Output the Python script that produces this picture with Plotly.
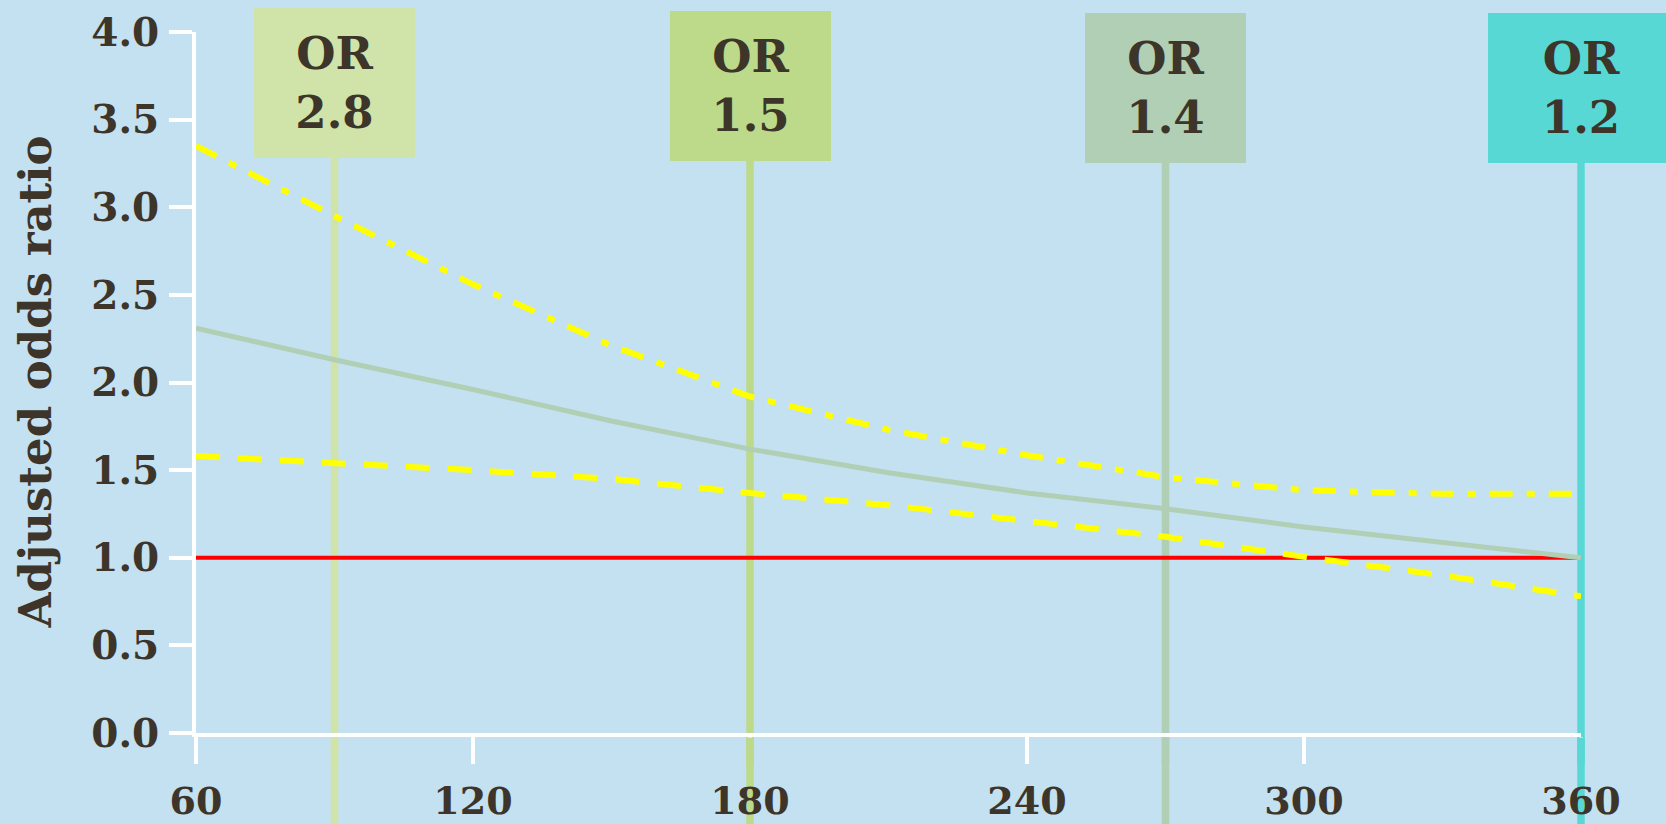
import plotly.graph_objects as go

# ---- data ----
x_vals = [60, 90, 120, 150, 180, 210, 240, 270, 300, 330, 360]
or_curve = [2.31, 2.13, 1.96, 1.78, 1.62, 1.485, 1.37, 1.28, 1.175, 1.09, 1.00]
upper_ci = [3.35, 2.95, 2.56, 2.21, 1.92, 1.73, 1.585, 1.46, 1.385, 1.365, 1.365]
lower_ci = [1.58, 1.54, 1.50, 1.45, 1.37, 1.30, 1.21, 1.12, 1.005, 0.90, 0.78]
ref_x = [60, 360]
ref_y = [1.0, 1.0]

marker_x = [90, 180, 270, 360]
marker_labels = ["2.8", "1.5", "1.4", "1.2"]
marker_colors = ["#d0e4aa", "#bdd98a", "#b1cfb4", "#58d8d5"]

x_ticks = [60, 120, 180, 240, 300, 360]
y_ticks = [0.0, 0.5, 1.0, 1.5, 2.0, 2.5, 3.0, 3.5, 4.0]
y_tick_text = ["0.0", "0.5", "1.0", "1.5", "2.0", "2.5", "3.0", "3.5", "4.0"]

X_RANGE = [60, 360]
Y_RANGE = [0, 4]

# ---- layout geometry ----
W, H = 1666, 824
ML, MR, MT, MB = 196, 85, 32, 91
PH = H - MT - MB

def py(px):
    return (H - MB - px) / PH

def px_x(v):
    return (v - X_RANGE[0]) / (X_RANGE[1] - X_RANGE[0])

FONT = "DejaVu Serif"
TXT = "#3d3529"
BG = "#c4e1f1"

box_tops = [8.0, 10.6, 12.5, 12.5]
box_h = 150
box_w = [161, 161, 161, 186]

fig = go.Figure()

fig.add_trace(go.Scatter(x=ref_x, y=ref_y, mode="lines",
                         line=dict(color="#ff0000", width=4), hoverinfo="skip"))
fig.add_trace(go.Scatter(x=x_vals, y=lower_ci, mode="lines",
                         line=dict(color="#ffff00", width=6, dash="24px,18px")))
fig.add_trace(go.Scatter(x=x_vals, y=upper_ci, mode="lines",
                         line=dict(color="#ffff00", width=6, dash="23px,14px,8px,14px")))
fig.add_trace(go.Scatter(x=x_vals, y=or_curve, mode="lines",
                         line=dict(color="#b1cfb4", width=5)))

shapes = []
annotations = []
for i, (mx, lab, col) in enumerate(zip(marker_x, marker_labels, marker_colors)):
    bottom = box_tops[i] + box_h
    xp = px_x(mx)
    # full line, beneath axes and traces
    shapes.append(dict(type="line", xref="paper", yref="paper", x0=xp, x1=xp,
                       y0=py(H + 40), y1=py(bottom - 1), layer="below",
                       line=dict(color=col, width=7.5)))
    # short piece over the tick marks
    shapes.append(dict(type="line", xref="paper", yref="paper", x0=xp, x1=xp,
                       y0=py(764), y1=py(737.5), layer="above",
                       line=dict(color=col, width=7.5)))
    annotations.append(dict(x=mx, xref="x", y=py(box_tops[i]), yref="paper",
                            yanchor="top", xanchor="center", showarrow=False,
                            text="OR<br>" + lab, align="center", valign="middle",
                            width=box_w[i], height=box_h, bgcolor=col,
                            borderpad=0, borderwidth=0,
                            font=dict(family=FONT, size=45, color=TXT, weight="bold")))

annotations.append(dict(x=(35 - ML) / (W - ML - MR), xref="paper", y=0.5, yref="paper",
                        xanchor="center", yanchor="middle", showarrow=False,
                        text="Adjusted odds ratio", textangle=-90,
                        font=dict(family=FONT, size=45, color=TXT, weight="bold")))

fig.update_layout(
    width=W, height=H,
    margin=dict(l=ML, r=MR, t=MT, b=MB, pad=0, autoexpand=False),
    paper_bgcolor=BG, plot_bgcolor="rgba(0,0,0,0)",
    showlegend=False,
    shapes=shapes, annotations=annotations,
    xaxis=dict(range=X_RANGE, tickvals=x_ticks, ticktext=[str(v) for v in x_ticks],
               automargin=False,
               showgrid=False, zeroline=False, showline=True, linecolor="white",
               linewidth=4, ticks="outside", ticklen=27, tickwidth=4, tickcolor="white",
               tickfont=dict(family=FONT, size=38, color=TXT, weight="bold"),
               ticklabelstandoff=4),
    yaxis=dict(range=Y_RANGE, tickvals=y_ticks, ticktext=y_tick_text,
               automargin=False,
               showgrid=False, zeroline=False, showline=True, linecolor="white",
               linewidth=4, ticks="outside", ticklen=23, tickwidth=4, tickcolor="white",
               tickfont=dict(family=FONT, size=39, color=TXT, weight="bold"),
               ticklabelstandoff=2),
)

fig.write_html("out.html",
               config={"displayModeBar": False},
               post_script="document.body.style.margin='0';document.body.style.overflow='hidden';")
